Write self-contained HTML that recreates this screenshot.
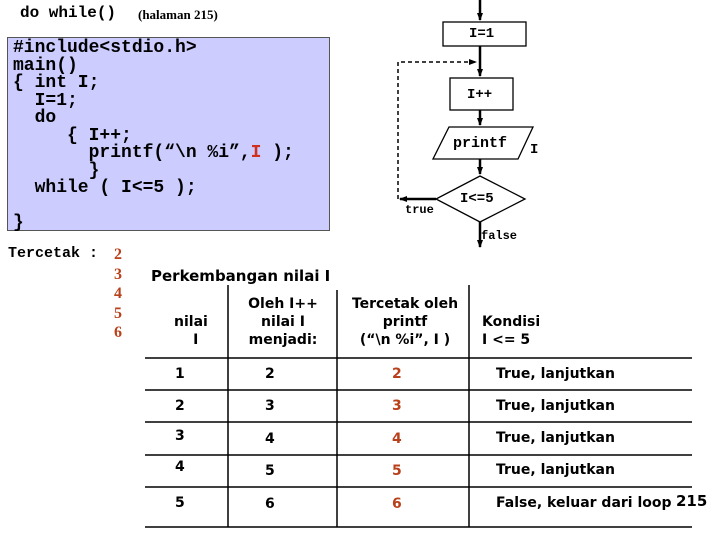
<!DOCTYPE html>
<html><head><meta charset="utf-8"><style>
body{margin:0;width:720px;height:540px;background:#fff;position:relative;overflow:hidden}
.a{position:absolute;white-space:pre}
.m{font-family:"Liberation Mono",monospace;font-weight:bold}
.s{font-family:"DejaVu Sans","Liberation Sans",sans-serif;font-weight:bold;font-size:14px}
.r{color:#b8401a}
.code{position:absolute;left:7px;top:37px;width:321px;height:192px;background:#ccccff;border:1px solid #555}
</style></head><body>
<div class="a m" style="left:20px;top:4px;font-size:16px">do while()</div>
<div class="a" style="left:138px;top:7px;font-family:'Liberation Serif',serif;font-weight:bold;font-size:13px">(halaman 215)</div>
<div class="code"></div>
<div class="a m" style="left:13px;top:40px;font-size:18px;line-height:17.5px">#include&lt;stdio.h&gt;
main()
{ int I;
  I=1;
  do
     { I++;
       printf(“\n %i”,<span style="color:#d03020">I</span> );
       }
  while ( I&lt;=5 );

}</div>
<div class="a m" style="left:8px;top:245px;font-size:15px">Tercetak :</div>
<div class="a r" style="left:114px;top:245px;font-family:'Liberation Serif',serif;font-weight:bold;font-size:16px;line-height:19.5px">2
3
4
5
6</div>
<svg class="a" style="left:0;top:0" width="720" height="540">
<defs><marker id="ar" markerWidth="8" markerHeight="8" refX="7" refY="4" orient="auto" markerUnits="userSpaceOnUse"><path d="M0,1 L8,4 L0,7z" fill="#000"/></marker></defs>
<g stroke="#000" stroke-width="1.3" fill="#fff">
<rect x="443" y="22" width="83" height="24"/>
<rect x="450" y="78" width="63" height="32"/>
<polygon points="449,127 533,127 518,159 433,159"/>
<polygon points="480,176 525,199 480,222 436,199"/>
</g>
<g stroke="#000" stroke-width="2.5" fill="none">
<line x1="480" y1="0" x2="480" y2="20" marker-end="url(#ar)"/>
<line x1="480" y1="46" x2="480" y2="76" marker-end="url(#ar)"/>
<line x1="480" y1="110" x2="480" y2="125" marker-end="url(#ar)"/>
<line x1="480" y1="159" x2="480" y2="174" marker-end="url(#ar)"/>
<line x1="480" y1="222" x2="480" y2="247" marker-end="url(#ar)"/>
<line x1="436" y1="199" x2="400" y2="199" marker-end="url(#ar)"/>
</g>
<polyline points="398,199 398,62 476,62" fill="none" stroke="#000" stroke-width="1.5" stroke-dasharray="4,3" marker-end="url(#ar)"/>
<g stroke="#000" stroke-width="1.5">
<line x1="145" y1="358" x2="692" y2="358"/>
<line x1="145" y1="390" x2="692" y2="390"/>
<line x1="145" y1="422" x2="692" y2="422"/>
<line x1="145" y1="455" x2="692" y2="455"/>
<line x1="145" y1="487" x2="692" y2="487"/>
<line x1="145" y1="527" x2="692" y2="527"/>
<line x1="228" y1="285" x2="228" y2="527"/>
<line x1="337" y1="290" x2="337" y2="527"/>
<line x1="469" y1="285" x2="469" y2="527"/>
</g>
</svg>
<div class="a m" style="left:469px;top:26px;font-size:14px">I=1</div>
<div class="a m" style="left:467px;top:87px;font-size:14px">I++</div>
<div class="a m" style="left:453px;top:135px;font-size:15px">printf</div>
<div class="a m" style="left:530px;top:142px;font-size:14px">I</div>
<div class="a m" style="left:460px;top:191px;font-size:14px">I&lt;=5</div>
<div class="a m" style="left:405px;top:203px;font-size:12px">true</div>
<div class="a m" style="left:481px;top:229px;font-size:12px">false</div>
<div class="a s" style="left:151px;top:267px;font-size:15px">Perkembangan nilai I</div>
<div class="a s" style="left:174px;top:313px;text-align:center;line-height:18px">nilai
  I</div>
<div class="a s" style="left:238px;top:295px;text-align:center;line-height:18px;width:90px;white-space:normal">Oleh I++<br>nilai I<br>menjadi:</div>
<div class="a s" style="left:345px;top:295px;text-align:center;line-height:18px;width:120px;white-space:normal">Tercetak oleh<br>printf<br>(“\n %i”, I )</div>
<div class="a s" style="left:482px;top:313px;line-height:18px">Kondisi
I &lt;= 5</div>
<div class="a s" style="left:175px;top:366px">1</div><div class="a s" style="left:265px;top:366px">2</div><div class="a s r" style="left:392px;top:366px">2</div><div class="a s" style="left:496px;top:366px">True, lanjutkan</div>
<div class="a s" style="left:175px;top:398px">2</div><div class="a s" style="left:265px;top:398px">3</div><div class="a s r" style="left:392px;top:398px">3</div><div class="a s" style="left:496px;top:398px">True, lanjutkan</div>
<div class="a s" style="left:175px;top:428px">3</div><div class="a s" style="left:265px;top:431px">4</div><div class="a s r" style="left:392px;top:431px">4</div><div class="a s" style="left:496px;top:430px">True, lanjutkan</div>
<div class="a s" style="left:175px;top:459px">4</div><div class="a s" style="left:265px;top:463px">5</div><div class="a s r" style="left:392px;top:463px">5</div><div class="a s" style="left:496px;top:462px">True, lanjutkan</div>
<div class="a s" style="left:175px;top:495px">5</div><div class="a s" style="left:265px;top:496px">6</div><div class="a s r" style="left:392px;top:496px">6</div><div class="a s" style="left:496px;top:495px">False, keluar dari loop</div>
<div class="a s" style="left:676px;top:492px;font-size:15px">215</div>
</body></html>
